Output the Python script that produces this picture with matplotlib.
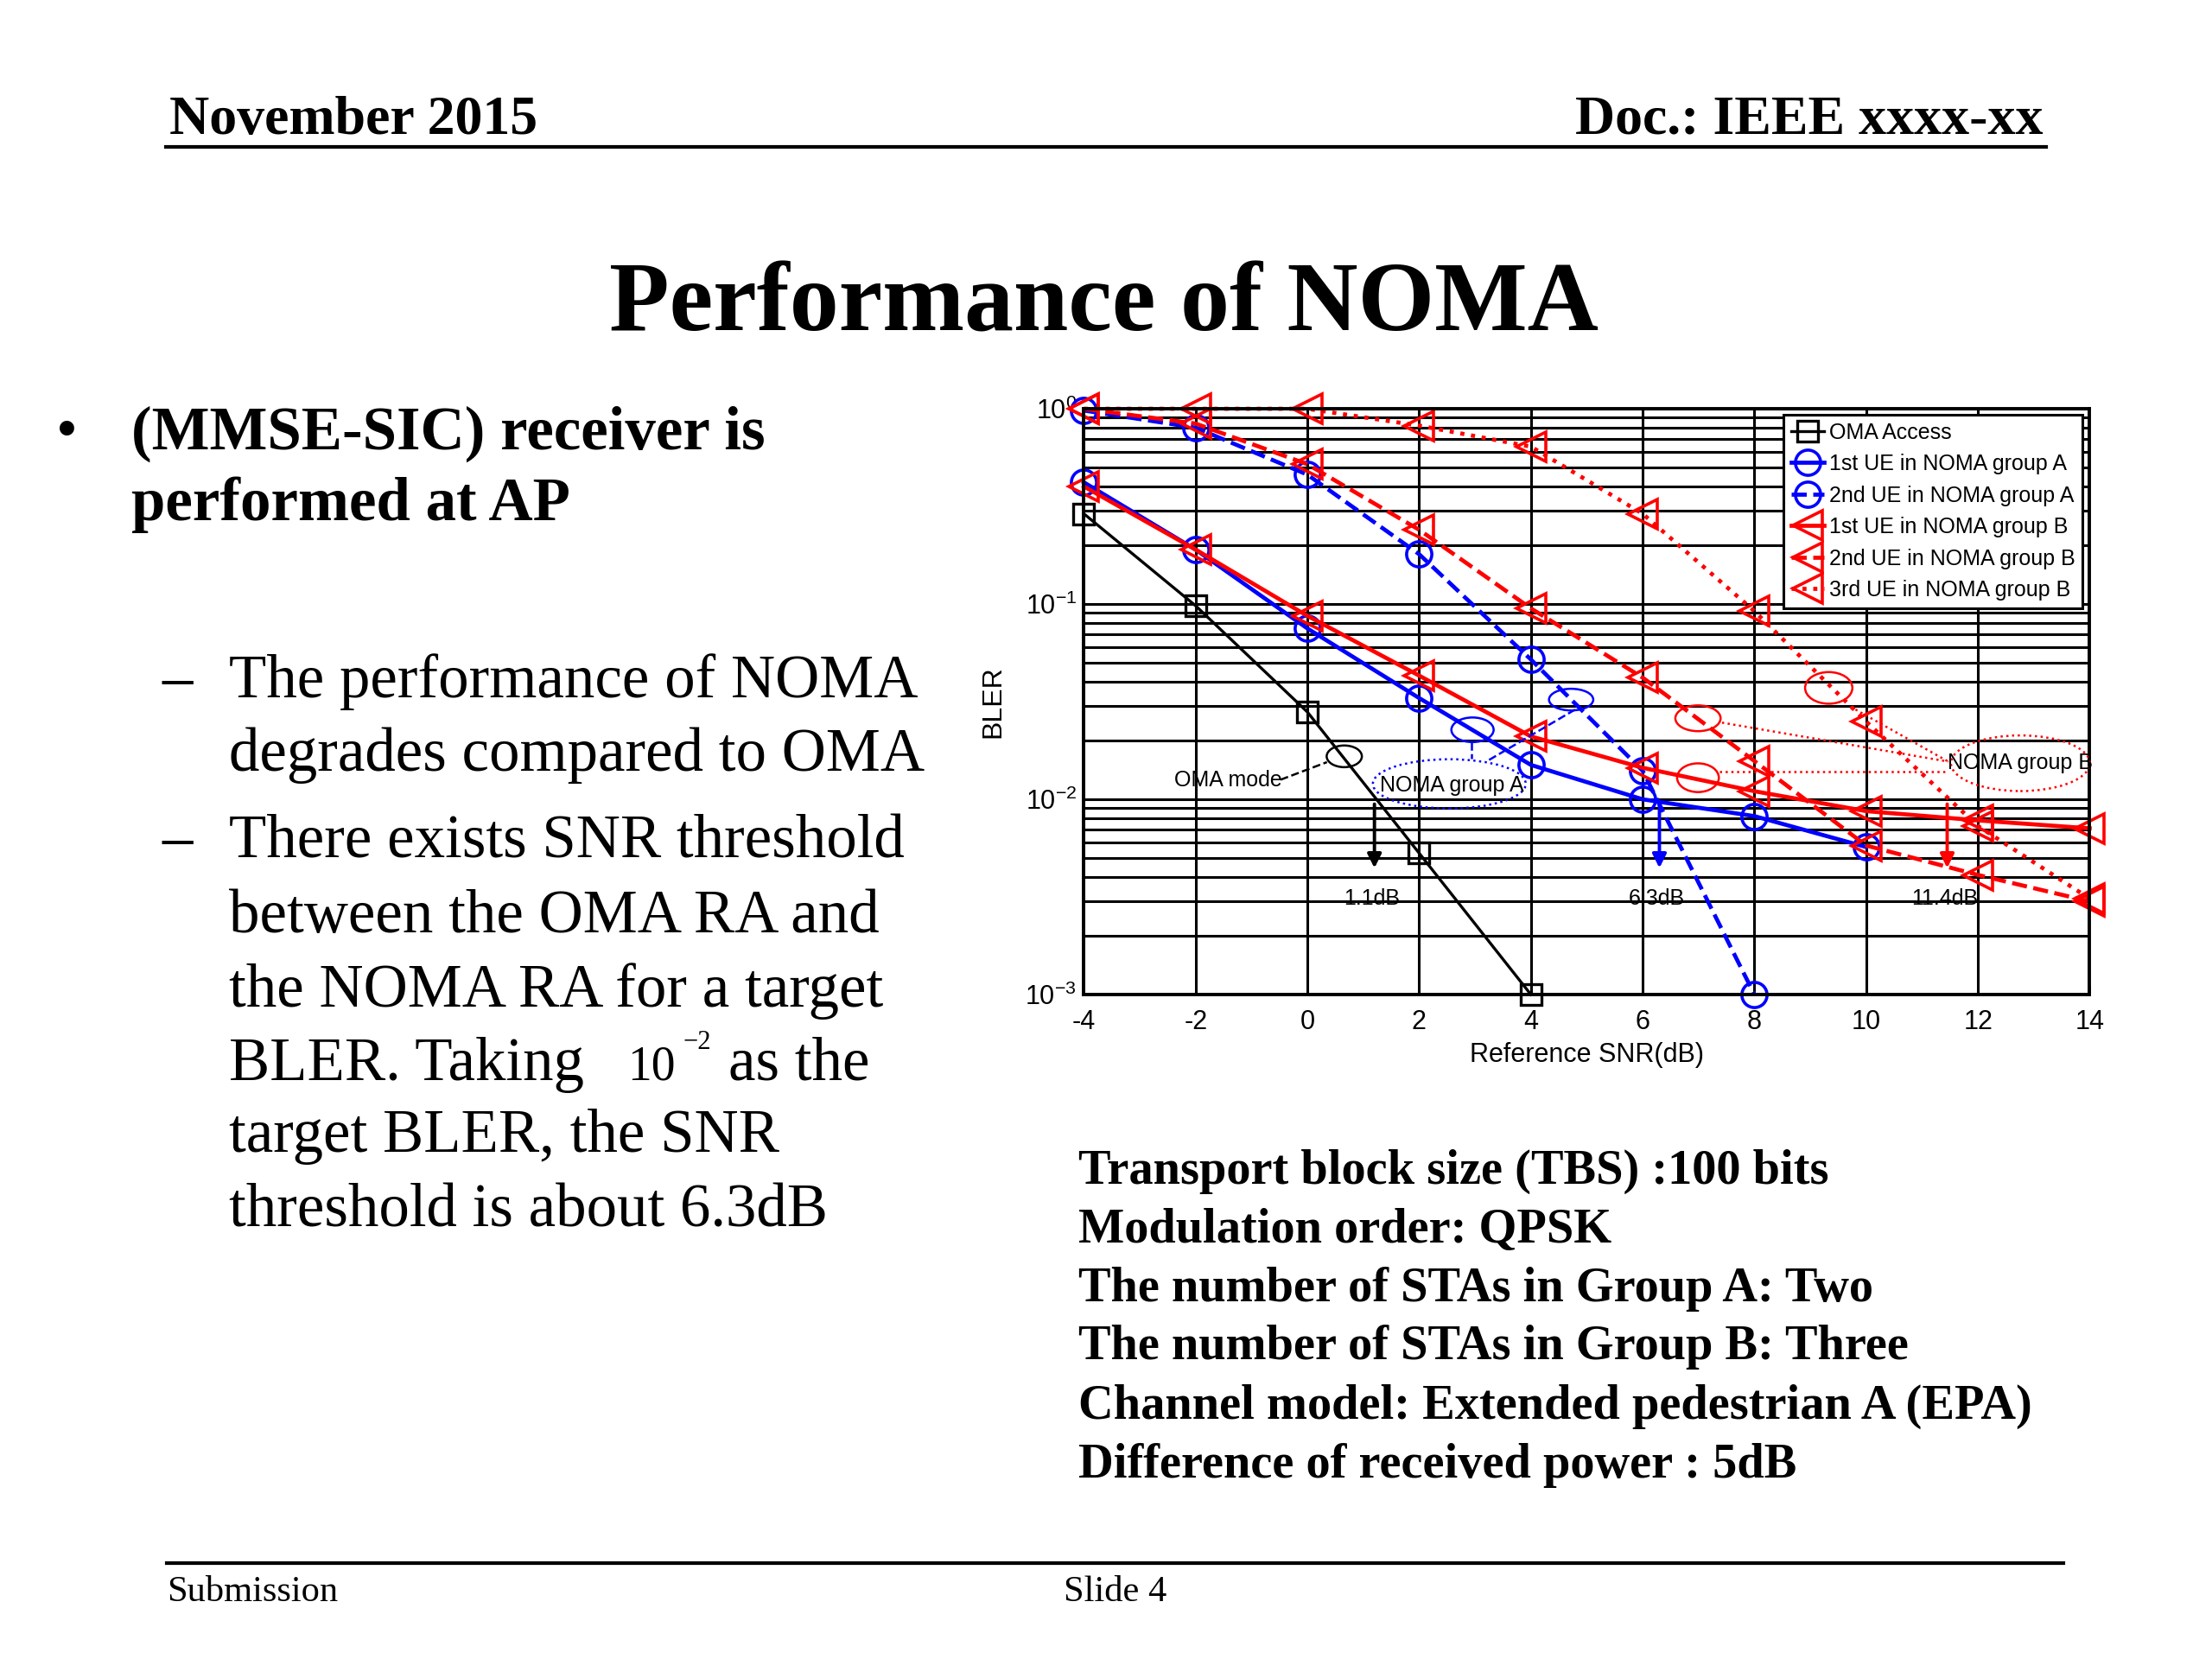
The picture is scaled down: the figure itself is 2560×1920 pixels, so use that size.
import numpy as np
import matplotlib
matplotlib.use('Agg')
import matplotlib.pyplot as plt
from matplotlib.patches import Ellipse
from matplotlib.lines import Line2D
from matplotlib.ticker import LogLocator, NullFormatter

plt.rcParams['font.family'] = ['Liberation Sans', 'DejaVu Sans']
plt.rcParams['mathtext.default'] = 'regular'
plt.rcParams['axes.unicode_minus'] = False

SERIF = ['Liberation Serif', 'DejaVu Serif']

# --- chart data (BLER vs reference SNR) ---
snr = [-4, -2, 0, 2, 4, 6, 8, 10, 12, 14]
oma_access = [0.29, 0.098, 0.028, 0.0053, 0.001]
ue1_group_a = [0.42, 0.19, 0.075, 0.033, 0.015, 0.010, 0.0082, 0.0057]
ue2_group_a = [0.98, 0.80, 0.46, 0.18, 0.052, 0.014, 0.001]
ue1_group_b = [0.40, 0.19, 0.087, 0.043, 0.021, 0.0145, 0.011, 0.0087, 0.0078, 0.0071]
ue2_group_b = [1.0, 0.84, 0.52, 0.24, 0.095, 0.042, 0.0157, 0.0058, 0.0041, 0.0030]
ue3_group_b = [1.0, 1.0, 1.0, 0.82, 0.64, 0.29, 0.092, 0.025, 0.0073, 0.0031]

series_labels = ['OMA Access', '1st UE in NOMA group A', '2nd UE in NOMA group A',
                 '1st UE in NOMA group B', '2nd UE in NOMA group B', '3rd UE in NOMA group B']

# threshold arrows: (snr, label, colour)
thresholds = [(1.2, '1.1dB', 'k'), (6.3, '6.3dB', 'b'), (11.45, '11.4dB', 'r')]

# slide text
bullet_main = ['(MMSE-SIC) receiver is', 'performed at AP']
sub_lines = ['The performance of NOMA', 'degrades compared to OMA',
             'There exists SNR threshold', 'between the OMA RA and',
             'the NOMA RA for a target', None,
             'target BLER, the SNR', 'threshold is about 6.3dB']
params = ['Transport block size (TBS) :100 bits',
          'Modulation order: QPSK',
          'The number of STAs in Group A: Two',
          'The number of STAs in Group B: Three',
          'Channel model: Extended pedestrian A (EPA)',
          'Difference of received power : 5dB']


def to_axes(x, y):
    return ((x + 4) / 18.0, (np.log10(y) + 3) / 3.0)


fig = plt.figure(figsize=(12.8, 9.6), dpi=200)

# header / footer
fig.text(0.0766, 0.9193, 'November 2015', family=SERIF, weight='bold', fontsize=23, va='baseline')
fig.text(0.9235, 0.9193, 'Doc.: IEEE xxxx-xx', family=SERIF, weight='bold', fontsize=23,
         va='baseline', ha='right')
fig.add_artist(Line2D([0.075, 0.925], [0.9115, 0.9115], color='k', lw=1.5))
fig.add_artist(Line2D([0.0754, 0.933], [0.058, 0.058], color='k', lw=1.5))
fig.text(0.0754, 0.0349, 'Submission', family=SERIF, fontsize=15.3, va='baseline')
fig.text(0.481, 0.0349, 'Slide 4', family=SERIF, fontsize=15.3, va='baseline')

fig.text(0.499, 0.801, 'Performance of NOMA', family=SERIF, weight='bold', fontsize=41,
         ha='center', va='baseline')

# left text block
fig.text(0.0255, 0.7295, '\u2022', family=SERIF, fontsize=25.5, va='baseline')
for yb, s in zip([0.7295, 0.6867], bullet_main):
    fig.text(0.0594, yb, s, family=SERIF, weight='bold', fontsize=25.5, va='baseline')

sub_y = [0.5797, 0.5355, 0.4832, 0.4382, 0.3933, 0.3491, 0.3057, 0.2608]
for yb in [sub_y[0], sub_y[2]]:
    fig.text(0.0734, yb, '\u2013', family=SERIF, fontsize=25.5, va='baseline')
for yb, s in zip(sub_y, sub_lines):
    if s is not None:
        fig.text(0.1035, yb, s, family=SERIF, fontsize=25.5, va='baseline')
fig.text(0.1035, sub_y[5], 'BLER. Taking', family=SERIF, fontsize=25.5, va='baseline')
fig.text(0.2836, sub_y[5], '10', family=SERIF, fontsize=20, va='baseline')
fig.text(0.3086, sub_y[5] + 0.0185, '\u22122', family=SERIF, fontsize=11, va='baseline')
fig.text(0.3293, sub_y[5], 'as the', family=SERIF, fontsize=25.5, va='baseline')

# parameter block
param_y = [0.2866, 0.2510, 0.2154, 0.1807, 0.1451, 0.1096]
for yb, s in zip(param_y, params):
    fig.text(0.4875, yb, s, family=SERIF, weight='bold', fontsize=20.3, va='baseline')

# --- chart ---
ax = fig.add_axes([0.4900, 0.4005, 0.4547, 0.3531])
ax.set_yscale('log')
ax.set_xlim(-4, 14)
ax.set_ylim(1e-3, 1)

mk = dict(markerfacecolor='none', clip_on=False)
h1, = ax.plot(snr[:5], oma_access, 'k-s', lw=1.2, ms=8.8, mew=1.2, **mk)
h2, = ax.plot(snr[:8], ue1_group_a, 'b-o', lw=1.7, ms=10.5, mew=1.3, **mk)
h3, = ax.plot(snr[:7], ue2_group_a, 'b--o', lw=1.7, ms=10.5, mew=1.3, **mk)
h4, = ax.plot(snr, ue1_group_b, 'r-<', lw=1.7, ms=12, mew=1.3, **mk)
h5, = ax.plot(snr, ue2_group_b, 'r--<', lw=1.7, ms=12, mew=1.3, **mk)
h6, = ax.plot(snr, ue3_group_b, 'r:<', lw=1.7, ms=12, mew=1.3, **mk)

ax.set_xticks(snr)
ax.set_xticklabels([str(v) for v in snr])
ax.set_yticks([1e-3, 1e-2, 1e-1, 1])
ax.set_yticklabels([r'$10^{-3}$', r'$10^{-2}$', r'$10^{-1}$', r'$10^{0}$'])
ax.yaxis.set_minor_locator(LogLocator(base=10, subs=range(2, 10)))
ax.yaxis.set_minor_formatter(NullFormatter())
ax.tick_params(which='both', direction='in', labelsize=11, length=4, width=1.0)
ax.tick_params(axis='y', pad=3)
ax.tick_params(axis='x', pad=6)
ax.grid(which='both', axis='y', color='k', lw=1.1)
ax.grid(which='major', axis='x', color='k', lw=1.1)
ax.set_axisbelow(True)
for sp in ax.spines.values():
    sp.set_linewidth(1.4)

ax.set_xlabel('Reference SNR(dB)', fontsize=11, labelpad=3)
ax.set_ylabel('BLER', fontsize=11.5, labelpad=8)

leg = ax.legend([h1, h2, h3, h4, h5, h6], series_labels, loc='upper right',
                bbox_to_anchor=(0.993, 0.990), fontsize=9, fancybox=False,
                edgecolor='k', framealpha=1, borderpad=0.35, handlelength=1.5,
                handletextpad=0.25, labelspacing=0.5, borderaxespad=0)
leg.get_frame().set_linewidth(1.1)
leg.set_zorder(10)

# annotation ellipses (centres in data units, sizes in axes fraction)
ellipses = [((0.66, 0.0166), 0.035, 0.037, 'k', '-'),
            ((2.54, 0.012), 0.152, 0.084, 'b', ':'),
            ((2.955, 0.0227), 0.042, 0.042, 'b', '-'),
            ((4.72, 0.0324), 0.044, 0.037, 'b', '-'),
            ((12.76, 0.0153), 0.138, 0.095, 'r', ':'),
            ((9.33, 0.0372), 0.047, 0.054, 'r', '-'),
            ((6.99, 0.026), 0.045, 0.044, 'r', '-'),
            ((6.99, 0.0129), 0.0415, 0.049, 'r', '-')]
for (cx, cy), w, h, c, ls in ellipses:
    ax.add_patch(Ellipse(to_axes(cx, cy), w, h, transform=ax.transAxes, fill=False,
                         edgecolor=c, ls=ls, lw=0.9, zorder=5, clip_on=False))

connectors = [([-0.48, 0.35], [0.0126, 0.0155], 'k', '--'),
              ([2.94, 2.94], [0.0196, 0.0161], 'b', '--'),
              ([4.79, 3.25], [0.0288, 0.0159], 'b', '--'),
              ([9.72, 11.47], [0.0298, 0.0156], 'r', ':'),
              ([7.42, 11.47], [0.0247, 0.0156], 'r', ':'),
              ([7.38, 11.47], [0.0138, 0.0138], 'r', ':')]
for xs, ys, c, ls in connectors:
    ax.plot(xs, ys, color=c, ls=ls, lw=0.9, zorder=5)

ax.text(-1.42, 0.0125, 'OMA mode', fontsize=9, ha='center', va='center', zorder=6)
ax.text(2.59, 0.0118, 'NOMA group A', fontsize=9, ha='center', va='center', zorder=6)
ax.text(12.76, 0.0153, 'NOMA group B', fontsize=9, ha='center', va='center', zorder=6)

for x, lab, c in thresholds:
    ax.annotate('', xy=(x, 0.0042), xytext=(x, 0.01),
                arrowprops=dict(arrowstyle='-|>', color=c, lw=1.4, mutation_scale=12),
                zorder=6)
    ax.text(x - 0.05, 0.0031, lab, fontsize=9, ha='center', va='center', zorder=6)

fig.savefig('out.png', dpi=200)
